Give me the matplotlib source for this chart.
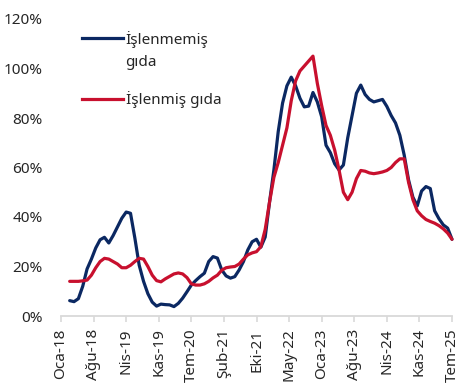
import numpy as np
import pandas as pd
import matplotlib
matplotlib.use("Agg")
import matplotlib.pyplot as plt

# monthly series, Mar-2018 .. Jul-2025 (annual % change)
months = pd.date_range("2018-03-01", "2025-07-01", freq="MS")

islenmemis = [6.2, 5.8, 7, 12, 19, 23, 27.5, 30.8, 31.8, 29.5,
              32.5, 36, 39.5, 42, 41.5, 31.5, 20.5, 14, 9, 5.6,
              4, 4.8, 4.6, 4.5, 3.8, 5.1, 7.2, 9.8, 12.5, 14.3,
              15.9, 17.3, 22, 24, 23.4, 18.6, 16.2, 15.3, 15.9, 18.6,
              22, 26.7, 30, 31, 27.8, 31.9, 46, 59, 74.5, 86,
              93, 96.5, 93, 88, 84.5, 84.8, 90.3, 86.5, 80.5, 69,
              66, 61.5, 59, 61, 72, 81, 90, 93.3, 89.5, 87.5,
              86.5, 87, 87.5, 84.7, 81, 78, 73, 65, 55, 48,
              44.5, 50.5, 52.3, 51.5, 42.5, 39.3, 36.8, 35.5, 31]

islenmis = [14, 14, 14, 14.2, 14.5, 16.5, 19.5, 22, 23.3, 23,
            22, 21, 19.5, 19.5, 20.5, 22, 23.3, 23, 20, 16.5,
            14.3, 13.8, 15, 16, 17, 17.4, 17, 15.5, 13, 12.5,
            12.5, 13, 14, 15.4, 16.5, 18.5, 19.5, 19.8, 20, 21,
            23, 24.7, 25.5, 26, 28, 35, 46, 56, 62, 69,
            76, 87, 95, 99, 101, 103, 105, 94, 85, 77,
            73, 67, 59, 50, 47, 50, 55.5, 58.8, 58.5, 57.8,
            57.5, 57.8, 58.2, 58.8, 60, 62, 63.5, 63.5, 54, 47,
            42.5, 40.5, 39, 38.2, 37.5, 36.5, 35.2, 33.5, 31]

tick_labels = ["Oca-18", "Ağu-18", "Nis-19", "Kas-19", "Tem-20", "Şub-21",
               "Eki-21", "May-22", "Oca-23", "Ağu-23", "Nis-24", "Kas-24", "Tem-25"]

BLUE = "#0b2862"
RED = "#c8102e"
TXT = "#262626"

plt.rcParams["font.family"] = ["Noto Sans", "DejaVu Sans"]
plt.rcParams["font.size"] = 11

# month index counted from Jan-2018
x = (months.year - 2018) * 12 + months.month - 1

fig = plt.figure(figsize=(4.72, 3.87), dpi=100)
ax = fig.add_axes([61 / 472, 71 / 387, 391 / 472, 297 / 387])

ax.plot(x, np.array(islenmemis) / 100, color=BLUE, lw=2.3,
        clip_on=False, solid_capstyle="round")
ax.plot(x, np.array(islenmis) / 100, color=RED, lw=2.3,
        clip_on=False, solid_capstyle="round")

ax.set_xlim(0, 90)
ax.set_ylim(0, 1.2)
ax.set_yticks(np.arange(0, 1.21, 0.2))
ax.set_yticklabels([f"{int(round(v * 100))}%" for v in np.arange(0, 1.21, 0.2)])
ax.set_xticks(np.arange(len(tick_labels)) * 7.5)
ax.set_xticklabels(tick_labels, rotation=90)

for s in ["top", "right", "left"]:
    ax.spines[s].set_visible(False)
ax.spines["bottom"].set_color("#d9d9d9")
ax.spines["bottom"].set_linewidth(1.3)
ax.tick_params(axis="y", length=0, pad=13, colors=TXT)
ax.tick_params(axis="x", length=4, width=1.2, color="#d9d9d9", pad=5, labelcolor=TXT)

# legend, placed by hand (the first label wraps onto two lines)
tr = ax.transAxes
ax.plot([0.054, 0.158], [0.936, 0.936], color=BLUE, lw=2.3, transform=tr, clip_on=False)
ax.text(0.165, 0.915, "İşlenmemiş", transform=tr, va="baseline", color=TXT)
ax.text(0.165, 0.842, "gıda", transform=tr, va="baseline", color=TXT)
ax.plot([0.054, 0.158], [0.730, 0.730], color=RED, lw=2.3, transform=tr, clip_on=False)
ax.text(0.165, 0.713, "İşlenmiş gıda", transform=tr, va="baseline", color=TXT)

fig.savefig("out.png", dpi=100)
